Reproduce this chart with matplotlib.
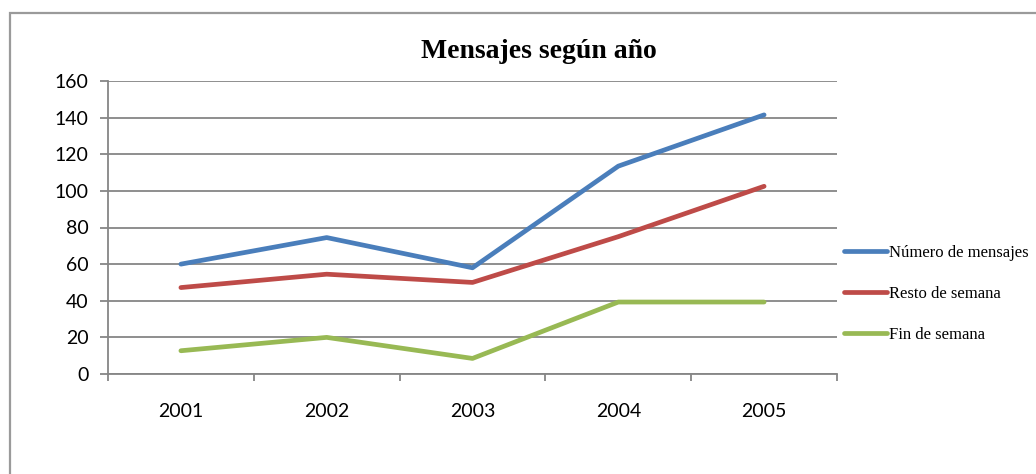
import matplotlib
matplotlib.use('Agg')
import matplotlib.pyplot as plt
from matplotlib.patches import Rectangle

# datos del grafico
anios = ['2001', '2002', '2003', '2004', '2005']
numero_mensajes = [60, 74.5, 58, 113.5, 141.5]
resto_semana = [47.2, 54.5, 50, 75, 102.5]
fin_semana = [12.7, 20, 8.5, 39.3, 39.3]
series = ['Número de mensajes', 'Resto de semana', 'Fin de semana']
colores = ['#4A7EBB', '#BE4B48', '#98B954']

fig = plt.figure(figsize=(10.36, 4.74), dpi=100)
ax = fig.add_axes([108/1036, 1 - 374/474, 729/1036, 293/474])

# marco del grafico
fig.patches.append(Rectangle((10/1036, -0.1), 1.2, 1.1 - 13/474,
                             transform=fig.transFigure, fill=False,
                             edgecolor='#9A9A9A', linewidth=1.6))

x = range(len(anios))
for vals, nombre, c in zip([numero_mensajes, resto_semana, fin_semana], series, colores):
    ax.plot(x, vals, color=c, linewidth=3.4, label=nombre, solid_capstyle='round')

ax.set_xlim(-0.5, len(anios) - 0.5)
ax.set_ylim(0, 160)
ax.set_yticks(range(0, 161, 20))
ax.grid(axis='y', color='#868686', linewidth=1.3)
ax.set_axisbelow(True)

for s in ['top', 'right']:
    ax.spines[s].set_visible(False)
for s in ['left', 'bottom']:
    ax.spines[s].set_color('#868686')
    ax.spines[s].set_linewidth(1.3)

ax.set_xticks(list(x))
ax.set_xticklabels(anios, fontname='Lato', fontsize=14)
ax.set_xticks([i - 0.5 for i in range(len(anios) + 1)], minor=True)
ax.tick_params(axis='x', which='major', length=0, pad=21)
ax.tick_params(axis='x', which='minor', length=5, width=1.3, color='#868686')
ax.tick_params(axis='y', length=6, width=1.3, color='#868686', pad=8)
for lbl in ax.get_yticklabels():
    lbl.set_fontname('Lato')
    lbl.set_fontsize(14)

fig.text(539/1036, 1 - 52/474, 'Mensajes según año', ha='center', va='center',
         fontname='Liberation Serif', fontweight='bold', fontsize=20)

leg = ax.legend(loc='upper left', bbox_to_anchor=(844/1036, 1 - 245/474),
                bbox_transform=fig.transFigure, frameon=False,
                prop={'family': 'Liberation Serif', 'size': 12},
                handlelength=2.55, handletextpad=0.15, labelspacing=1.5,
                borderaxespad=0, borderpad=0)

fig.savefig('out.png', dpi=100)
